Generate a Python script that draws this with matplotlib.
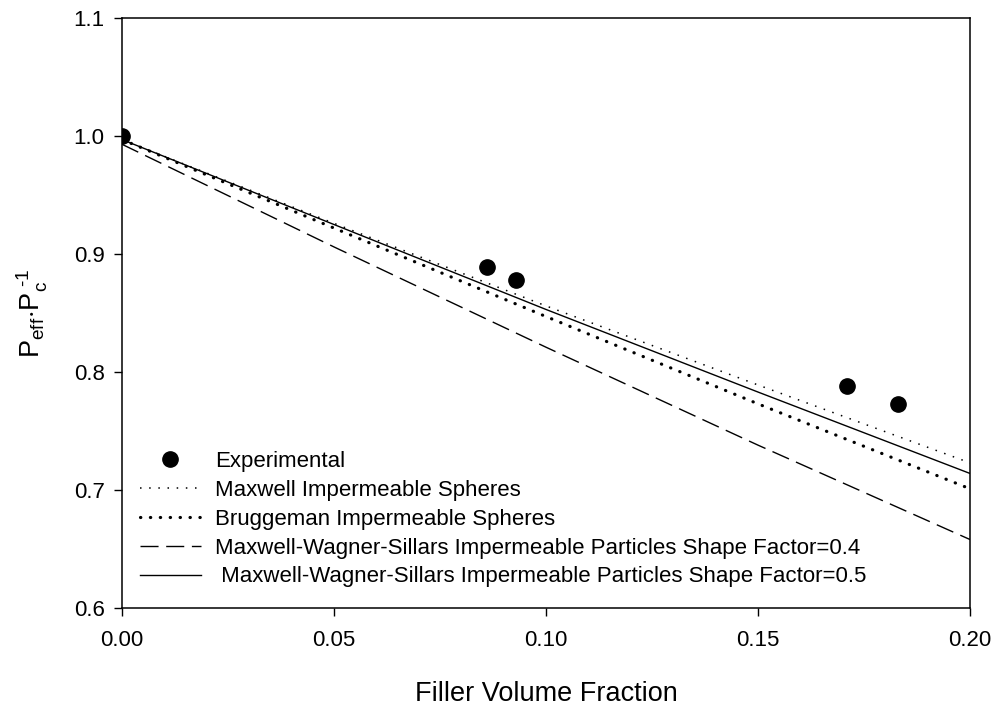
import matplotlib
matplotlib.use('Agg')
import matplotlib.pyplot as plt

plt.rcParams['font.family'] = ['Liberation Sans', 'DejaVu Sans']
plt.rcParams['mathtext.fontset'] = 'custom'
plt.rcParams['mathtext.rm'] = 'Liberation Sans'
plt.rcParams['mathtext.it'] = 'Liberation Sans'

# experimental data
exp_x = [0.0, 0.086, 0.093, 0.171, 0.183]
exp_y = [1.0, 0.889, 0.878, 0.788, 0.773]

# model curves
phi = [0.0, 0.05, 0.10, 0.15, 0.20]
maxwell = [0.997, 0.926, 0.856, 0.789, 0.723]
bruggeman = [0.997, 0.922, 0.847, 0.773, 0.701]
mws_04 = [0.993, 0.906, 0.821, 0.738, 0.658]
mws_05 = [0.997, 0.925, 0.853, 0.783, 0.714]

xticks = [0.00, 0.05, 0.10, 0.15, 0.20]
yticks = [0.6, 0.7, 0.8, 0.9, 1.0, 1.1]

fig = plt.figure(figsize=(9.95, 7.07), dpi=100)
ax = fig.add_axes([0.1226, 0.140, 0.8524, 0.8345])

ax.plot(exp_x, exp_y, 'o', color='black', markersize=11, label='Experimental', zorder=5)
ax.plot(phi, maxwell, color='black', lw=1.1, linestyle=(0, (1, 5)),
        label='Maxwell Impermeable Spheres')
ax.plot(phi, bruggeman, color='black', lw=2.3, linestyle=(0, (0.1, 3.0)),
        dash_capstyle='round', label='Bruggeman Impermeable Spheres')
ax.plot(phi, mws_04, color='black', lw=1.0, linestyle=(0, (13, 5.5)),
        label='Maxwell-Wagner-Sillars Impermeable Particles Shape Factor=0.4')
ax.plot(phi, mws_05, color='black', lw=1.0,
        label=' Maxwell-Wagner-Sillars Impermeable Particles Shape Factor=0.5')

ax.set_xlim(0, 0.2)
ax.set_ylim(0.6, 1.1)
ax.set_xticks(xticks)
ax.set_xticklabels(['%.2f' % t for t in xticks])
ax.set_yticks(yticks)
ax.set_yticklabels(['%.1f' % t for t in yticks])
ax.tick_params(direction='out', length=5.5, width=1, labelsize=16)
ax.tick_params(axis='x', pad=10)
ax.tick_params(axis='y', pad=7)
for s in ax.spines.values():
    s.set_linewidth(1.1)

ylab = r'$\mathrm{P_{eff}{\cdot}P_c^{\ ' + '\u2010' + r'1}}$'
ax.set_xlabel('Filler Volume Fraction', fontsize=19.5, labelpad=22)
ax.set_ylabel(ylab, fontsize=19.5, labelpad=17)

ax.legend(loc='lower left', frameon=False, fontsize=16, handlelength=2.75,
          handletextpad=0.65, labelspacing=0.35, bbox_to_anchor=(0.021, 0.035),
          borderaxespad=0, borderpad=0)

fig.savefig('out.png', dpi=100)
